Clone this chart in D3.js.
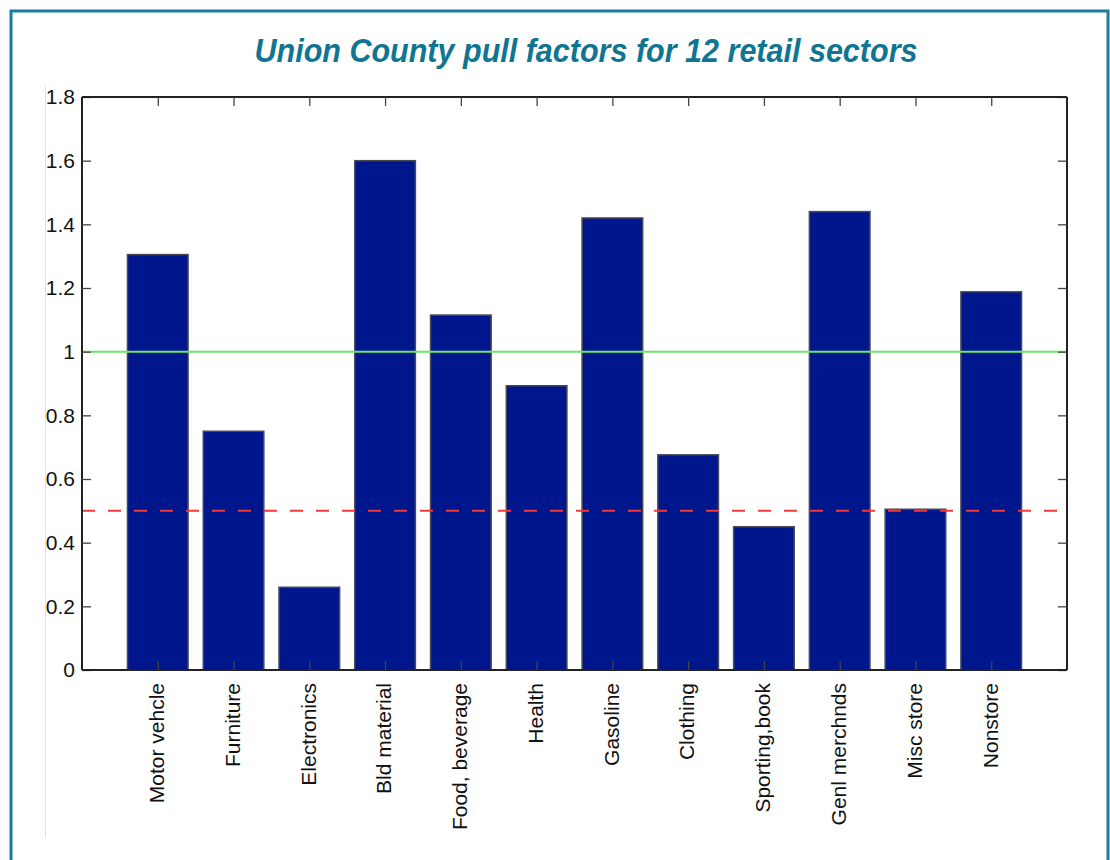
<!DOCTYPE html>
<html lang="en">
    <head>
        <meta charset="UTF-8" />
        <title>Union County pull factors</title>
        <script src="https://d3js.org/d3.v7.min.js"></script>
        <style>
            body {
                margin: 0;
                background: #fff;
            }
            .bar {
                fill: #00168c;
                stroke: #4a4a55;
                stroke-width: 1.5px;
            }
            .tick-label {
                font-family: "Liberation Sans", Arial, sans-serif;
                font-size: 21px;
                fill: #111;
            }
        </style>
    </head>
    <body>
        <svg width="1110" height="860"></svg>

        <script>
            const width = 1110,
                height = 860;

            // data
            const sectors = [
                "Motor vehcle",
                "Furniture",
                "Electronics",
                "Bld material",
                "Food, beverage",
                "Health",
                "Gasoline",
                "Clothing",
                "Sporting,book",
                "Genl merchnds",
                "Misc store",
                "Nonstore",
            ];
            const pullFactors = [1.305, 0.75, 0.26, 1.6, 1.115, 0.893, 1.42, 0.676, 0.45, 1.44, 0.505, 1.188];
            const yTicks = [0, 0.2, 0.4, 0.6, 0.8, 1, 1.2, 1.4, 1.6, 1.8];
            const refLines = [
                { value: 1, color: "#6be66b", dash: null },
                { value: 0.5, color: "#ee3a3a", dash: "13,13" },
            ];

            const plot = { left: 82, top: 97, right: 1067, bottom: 670 };

            const svg = d3.select("svg");

            // outer teal frame
            svg.append("rect")
                .attr("x", 11)
                .attr("y", 11)
                .attr("width", 1097)
                .attr("height", 880)
                .attr("fill", "none")
                .attr("stroke", "#1a7d9c")
                .attr("stroke-width", 3);

            // faint guide line on the left
            svg.append("line")
                .attr("x1", 45.5)
                .attr("x2", 45.5)
                .attr("y1", 86)
                .attr("y2", 838)
                .attr("stroke", "#e2e2e2")
                .attr("stroke-width", 1);

            // title
            svg.append("text")
                .attr("x", 586)
                .attr("y", 62)
                .attr("text-anchor", "middle")
                .attr("textLength", 663)
                .attr("lengthAdjust", "spacingAndGlyphs")
                .style("font-family", '"Liberation Sans Narrow", "Liberation Sans", Arial, sans-serif')
                .style("font-style", "italic")
                .style("font-weight", "bold")
                .style("font-size", "33px")
                .style("fill", "#0f7592")
                .text("Union County pull factors for 12 retail sectors");

            // scales: bars sit at 1..12 on a 0..13 range, like matlab's bar()
            const x = d3.scaleLinear().domain([0, sectors.length + 1]).range([plot.left, plot.right]);
            const y = d3.scaleLinear().domain([0, 1.8]).range([plot.bottom, plot.top]);
            const barW = x(0.8) - x(0);

            // bars
            svg.append("g")
                .selectAll("rect")
                .data(pullFactors)
                .join("rect")
                .attr("class", "bar")
                .attr("x", (d, i) => x(i + 1) - barW / 2)
                .attr("y", (d) => y(d))
                .attr("width", barW)
                .attr("height", (d) => y(0) - y(d));

            // reference lines
            svg.append("g")
                .selectAll("line")
                .data(refLines)
                .join("line")
                .attr("x1", plot.left)
                .attr("x2", plot.right)
                .attr("y1", (d) => y(d.value))
                .attr("y2", (d) => y(d.value))
                .attr("stroke", (d) => d.color)
                .attr("stroke-width", 2)
                .attr("stroke-dasharray", (d) => d.dash);

            // axes box with inward ticks
            const tickFmt = d3.format("~g");
            const barTicks = d3.range(1, sectors.length + 1);

            const leftAxis = d3.axisLeft(y).tickValues(yTicks).tickSize(-9).tickPadding(7).tickFormat(tickFmt);
            const rightAxis = d3.axisRight(y).tickValues(yTicks).tickSize(-9).tickFormat("");
            const topAxis = d3.axisTop(x).tickValues(barTicks).tickSize(-9).tickFormat("");
            const bottomAxis = d3.axisBottom(x).tickValues(barTicks).tickSize(-9).tickFormat("");

            const axes = [
                svg.append("g").attr("transform", `translate(${plot.left},0)`).call(leftAxis),
                svg.append("g").attr("transform", `translate(${plot.right},0)`).call(rightAxis),
                svg.append("g").attr("transform", `translate(0,${plot.top})`).call(topAxis),
                svg.append("g").attr("transform", `translate(0,${plot.bottom})`).call(bottomAxis),
            ];
            axes.forEach((g) => {
                g.select(".domain").attr("stroke", "#222").attr("stroke-width", 2);
                g.selectAll(".tick line").attr("stroke", "#444").attr("stroke-width", 1.3);
                g.selectAll(".tick text").attr("class", "tick-label").attr("fill", "#111");
            });
            // matlab-style axes draw the domain straight, no outer tick hooks
            axes[0].select(".domain").attr("d", `M0,${plot.top}V${plot.bottom}`);
            axes[1].select(".domain").attr("d", `M0,${plot.top}V${plot.bottom}`);
            axes[2].select(".domain").attr("d", `M${plot.left},0H${plot.right}`);
            axes[3].select(".domain").attr("d", `M${plot.left},0H${plot.right}`);

            // rotated sector labels
            svg.append("g")
                .selectAll("text")
                .data(sectors)
                .join("text")
                .attr("class", "tick-label")
                .attr("text-anchor", "end")
                .attr("dy", "0.3em")
                .attr("transform", (d, i) => `translate(${x(i + 1)},${plot.bottom + 13}) rotate(-90)`)
                .text((d) => d);
        </script>
    </body>
</html>
